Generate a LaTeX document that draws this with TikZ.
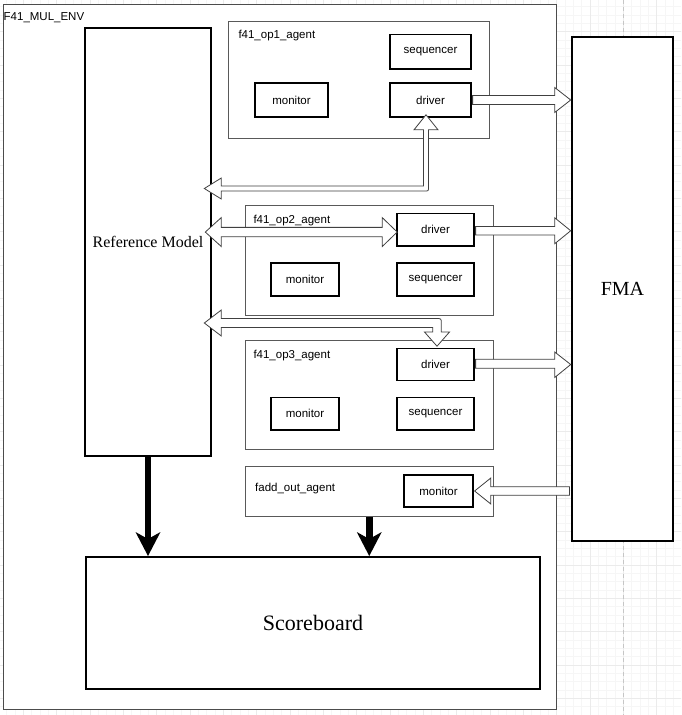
\documentclass[tikz,border=0pt]{standalone}
\usepackage{fontspec}
\setmainfont{Liberation Serif}
\setsansfont{Liberation Sans}
\usetikzlibrary{arrows.meta,calc}
\begin{document}
\begin{tikzpicture}[x=1pt,y=1pt,
  envbox/.style={draw=black!70,line width=1pt,fill=white,inner sep=0pt},
  agentbox/.style={draw=black!65,line width=1pt,fill=white,inner sep=0pt},
  unitbox/.style={draw=black,line width=1.6pt,fill=white,inner sep=0pt,
    font=\sffamily\fontsize{11.5}{13}\selectfont},
  bigbox/.style={draw=black,line width=2.6pt,fill=white,inner sep=0pt},
  lbl/.style={font=\sffamily\fontsize{11.5}{13}\selectfont,inner sep=0pt,anchor=base west},
  flex/.style={draw=black!75,fill=white,line width=0.8pt,line join=miter},
  fat/.style={line width=6.5pt,-{Stealth[length=24pt,width=25pt,inset=7pt,line width=0pt]}}
]
\useasboundingbox (0,0) rectangle (681,-715);
% background grid
\begin{scope}
  \clip (0,0) rectangle (681,-715);
  \begin{scope}[shift={(23.33,-31.67)}]
    \draw[gray!7,line width=0.5pt,step=8.333pt] (-40,-720) grid (680,40);
    \draw[gray!16,line width=0.6pt,step=33.333pt] (-40,-720) grid (680,40);
  \end{scope}
  \draw[gray!45,line width=0.6pt,dash pattern=on 4pt off 3pt] (623,0) -- (623,-715);
\end{scope}

% environment
\node[envbox,minimum width=553pt,minimum height=705pt] (env) at (279.5,-356.5) {};
\node[lbl] (envlbl) at (3.5,-20) {F41\_MUL\_ENV};

% big boxes
\node[bigbox,minimum width=126pt,minimum height=428pt,font=\fontsize{16}{18}\selectfont] (rm) at (148,-242) {Reference Model};
\node[bigbox,minimum width=101pt,minimum height=504pt,font=\fontsize{20}{22}\selectfont] (fma) at (622.5,-289) {FMA};
\node[draw=black,line width=2pt,fill=white,inner sep=0pt,minimum width=454pt,minimum height=132pt,font=\fontsize{22}{24}\selectfont] (sb) at (313,-623) {\raisebox{0pt}{Scoreboard}};

% agent 1
\node[agentbox,minimum width=260.5pt,minimum height=117pt] (op1) at (358.75,-79.5) {};
\node[lbl] (op1lbl) at (238.3,-38.5) {f41\_op1\_agent};
\node[unitbox,minimum width=81pt,minimum height=34.5pt] (seq1) at (430.5,-51.75) {sequencer};
\node[unitbox,minimum width=73pt,minimum height=34pt] (mon1) at (291.5,-100) {monitor};
\node[unitbox,minimum width=81pt,minimum height=34pt] (drv1) at (430.5,-100) {driver};

% agent 2
\node[agentbox,minimum width=248pt,minimum height=110pt] (op2) at (369,-260) {};
\node[lbl] (op2lbl) at (253.3,-223) {f41\_op2\_agent};
\node[unitbox,minimum width=77pt,minimum height=32.5pt] (drv2) at (435.5,-229.75) {driver};
\node[unitbox,minimum width=68pt,minimum height=33pt] (mon2) at (305,-279.5) {monitor};
\node[unitbox,minimum width=77pt,minimum height=33pt] (seq2) at (435.5,-279.5) {sequencer};

% agent 3
\node[agentbox,minimum width=248pt,minimum height=109pt] (op3) at (369,-394.5) {};
\node[lbl] (op3lbl) at (253.3,-358) {f41\_op3\_agent};
\node[unitbox,minimum width=77pt,minimum height=32pt] (drv3) at (435.5,-364.5) {driver};
\node[unitbox,minimum width=68pt,minimum height=32.5pt] (mon3) at (305,-413.75) {monitor};
\node[unitbox,minimum width=77pt,minimum height=32.5pt] (seq3) at (435.5,-413.75) {sequencer};

% fadd out agent
\node[agentbox,minimum width=247.5pt,minimum height=50pt] (fadd) at (369.25,-491) {};
\node[lbl] (faddlbl) at (255,-491.5) {fadd\_out\_agent};
\node[unitbox,minimum width=69pt,minimum height=32pt] (mon4) at (438.5,-491) {monitor};

% drivers -> FMA
\draw[flex] let \p1=(drv1.east), \p2=(fma.west) in
  (\x1+0.8,\y1+4.5) -- (\x2-16,\y1+4.5) -- (\x2-16,\y1+12.5) -- (\x2,\y1)
  -- (\x2-16,\y1-12.5) -- (\x2-16,\y1-4.5) -- (\x1+0.8,\y1-4.5) -- cycle;
\draw[flex] let \p1=(drv2.east), \p2=(fma.west) in
  (\x1+0.8,\y1+3.2) -- (\x2-16,\y1+3.2) -- (\x2-16,\y1+12) -- (\x2,\y1-1)
  -- (\x2-16,\y1-14) -- (\x2-16,\y1-5.2) -- (\x1+0.8,\y1-5.2) -- cycle;
\draw[flex] let \p1=(drv3.east), \p2=(fma.west) in
  (\x1+0.8,\y1+5.2) -- (\x2-16,\y1+5.2) -- (\x2-16,\y1+12.5) -- (\x2,\y1)
  -- (\x2-16,\y1-13) -- (\x2-16,\y1-3.8) -- (\x1+0.8,\y1-3.8) -- cycle;

% FMA -> fadd monitor
\draw[flex] let \p1=(fma.west), \p2=(mon4.east) in
  (\x1-1.3,\y2+4.2) -- (\x2+17,\y2+4.2) -- (\x2+17,\y2+13) -- (\x2+0.8,\y2)
  -- (\x2+17,\y2-13) -- (\x2+17,\y2-4.2) -- (\x1-1.3,\y2-4.2) -- cycle;

% Reference Model <-> op2 driver
\draw[flex] let \p1=(rm.east), \p2=($(drv2.west)+(0,-2.3)$) in
  (\x1-7,\y2) -- (\x1+9,\y2+14.5) -- (\x1+9,\y2+4.7) -- (\x2-14,\y2+4.7)
  -- (\x2-14,\y2+14.5) -- (\x2+1,\y2) -- (\x2-14,\y2-14.5) -- (\x2-14,\y2-4.7)
  -- (\x1+9,\y2-4.7) -- (\x1+9,\y2-14.5) -- cycle;

% Reference Model <-> op1 driver (bent)
\draw[flex] let \p1=(rm.east), \p2=(drv1.south) in
  (\x1-8,-188.5) -- (\x1+9,-178) -- (\x1+9,-186) -- (\x2-7,-186)
  -- (\x2-7,\y2-12) -- (\x2-16.5,\y2-12) -- (\x2-4.5,\y2+3) -- (\x2+7.5,\y2-12)
  -- (\x2-2,\y2-12) -- (\x2-2,-187) .. controls (\x2-2,-191) .. (\x2-6,-191)
  -- (\x1+9,-191) -- (\x1+9,-199) -- cycle;

% Reference Model <-> op3 driver (bent)
\draw[flex] let \p1=(rm.east), \p2=(drv3.north) in
  (\x1-8,-323) -- (\x1+9,-310) -- (\x1+9,-318.5) -- (\x2+0.8,-318.5)
  .. controls (\x2+5.8,-318.5) .. (\x2+5.8,-323.5) -- (\x2+5.8,-332)
  -- (\x2+14,-332) -- (\x2+1.5,\y2+1.5) -- (\x2-11,-332) -- (\x2-2.8,-332)
  -- (\x2-2.8,-327.5) -- (\x1+9,-327.5) -- (\x1+9,-336) -- cycle;

% to scoreboard
\draw[fat] (rm.south) -- (rm.south |- sb.north);
\draw[fat] (fadd.south) -- (fadd.south |- sb.north);
\end{tikzpicture}
\end{document}
